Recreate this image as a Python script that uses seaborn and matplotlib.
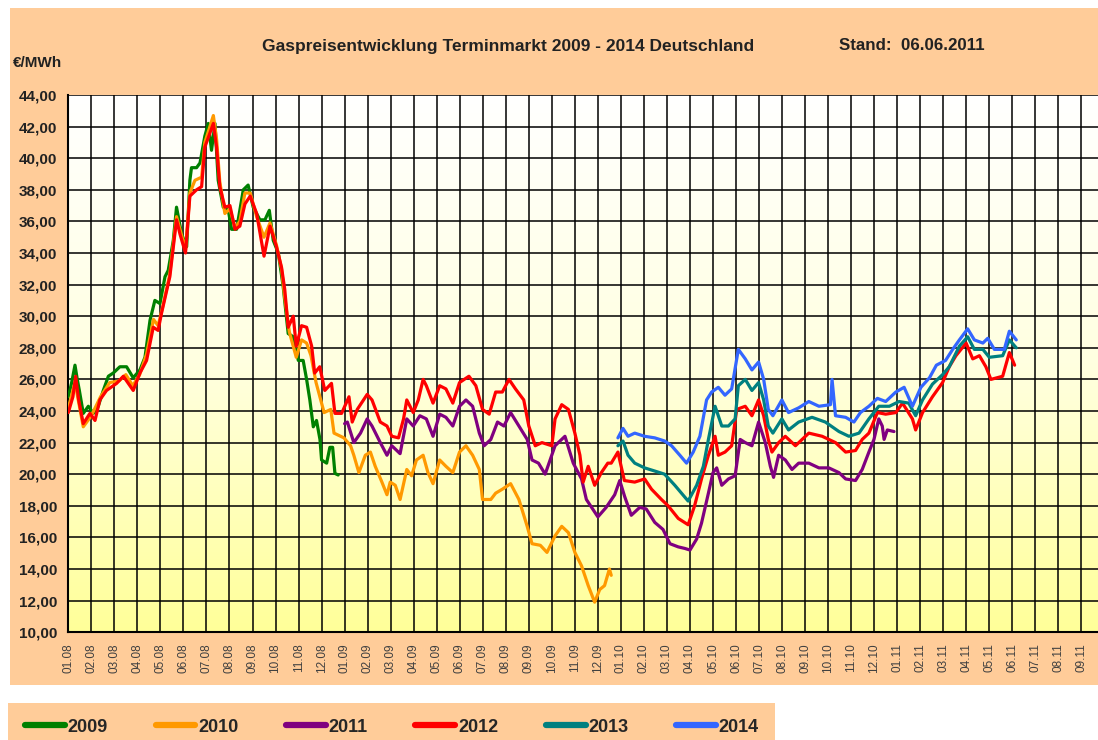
import numpy as np
import pandas as pd
import matplotlib
matplotlib.use("Agg")
import matplotlib.pyplot as plt
import seaborn as sns
from matplotlib.colors import LinearSegmentedColormap
from matplotlib.lines import Line2D
from matplotlib.patches import Rectangle

# ---------------- data (x = months since 01.2008) ----------------
month_labels = ["01.08", "02.08", "03.08", "04.08", "05.08", "06.08", "07.08", "08.08", "09.08", "10.08", "11.08", "12.08",
                "01.09", "02.09", "03.09", "04.09", "05.09", "06.09", "07.09", "08.09", "09.09", "10.09", "11.09", "12.09",
                "01.10", "02.10", "03.10", "04.10", "05.10", "06.10", "07.10", "08.10", "09.10", "10.10", "11.10", "12.10",
                "01.11", "02.11", "03.11", "04.11", "05.11", "06.11", "07.11", "08.11", "09.11"]
y_ticks = [10, 12, 14, 16, 18, 20, 22, 24, 26, 28, 30, 32, 34, 36, 38, 40, 42, 44]
y_tick_labels = ["10,00", "12,00", "14,00", "16,00", "18,00", "20,00", "22,00", "24,00", "26,00",
                 "28,00", "30,00", "32,00", "34,00", "36,00", "38,00", "40,00", "42,00", "44,00"]
years = ["2009", "2010", "2011", "2012", "2013", "2014"]

m2009 = [0.0, 0.14, 0.29, 0.39, 0.48, 0.65, 0.87, 1.09, 1.3, 1.52, 1.74, 1.95, 2.24, 2.53, 2.82, 3.11, 3.33,
         3.55, 3.76, 3.98, 4.2, 4.34, 4.56, 4.7, 4.92, 5.14, 5.28, 5.35, 5.57, 5.72, 5.93, 6.08, 6.22, 6.37,
         6.51, 6.73, 6.95, 7.09, 7.31, 7.6, 7.81, 8.03, 8.32, 8.54, 8.73, 8.9, 9.12, 9.33, 9.55, 9.77, 9.99,
         10.2, 10.35, 10.49, 10.64, 10.78, 10.93, 11.0, 11.22, 11.36, 11.48, 11.58, 11.72]
v2009 = [24.9, 25.75, 26.9, 26.0, 25.3, 23.85, 24.3, 23.85, 24.3, 25.3, 26.2, 26.4, 26.8, 26.8, 26.1, 26.6, 27.4,
         29.75, 31.0, 30.8, 32.5, 32.9, 34.8, 36.9, 35.2, 34.4, 38.6, 39.4, 39.4, 39.7, 41.4, 42.2, 40.5, 42.2,
         38.6, 36.9, 36.7, 35.5, 35.5, 38.0, 38.3, 36.9, 36.1, 36.1, 36.7, 34.8, 34.0, 31.9, 28.9, 28.7, 27.2,
         27.2, 26.0, 24.7, 23.0, 23.4, 22.2, 20.9, 20.7, 21.7, 21.7, 20.05, 19.95]

m2010 = [0.0, 0.29, 0.65, 1.0, 1.4, 1.8, 2.2, 2.5, 2.8, 3.1, 3.4, 3.7, 3.9, 4.1, 4.4, 4.7, 4.85, 5.09, 5.28,
         5.5, 5.79, 5.93, 6.15, 6.3, 6.44, 6.58, 6.8, 7.02, 7.24, 7.45, 7.67, 7.9, 8.18, 8.5, 8.76, 9.04,
         9.26, 9.4, 9.6, 9.9, 10.13, 10.35, 10.54, 10.76, 11.11, 11.4, 11.54, 11.97, 12.26, 12.4, 12.62, 12.9,
         13.12, 13.33, 13.62, 13.84, 13.98, 14.2, 14.41, 14.7, 14.91, 15.12, 15.41, 15.62, 15.84, 16.13, 16.4,
         16.7, 16.99, 17.27, 17.56, 17.85, 17.99, 18.35, 18.56, 18.85, 19.21, 19.57, 19.93, 20.14, 20.5,
         20.79, 21.14, 21.43, 21.72, 22.0, 22.29, 22.58, 22.86, 23.08, 23.29, 23.5, 23.58]
v2010 = [24.2, 25.8, 23.0, 23.7, 24.9, 25.8, 25.9, 26.3, 25.6, 26.3, 27.6, 29.8, 29.4, 30.6, 32.6, 36.3, 35.5,
         34.2, 37.8, 38.6, 38.8, 41.0, 42.0, 42.7, 41.2, 38.5, 36.5, 36.8, 35.6, 36.0, 37.8, 37.8, 36.3, 35.0,
         35.9, 34.5, 33.0, 31.2, 29.0, 27.4, 28.5, 28.3, 27.5, 25.8, 23.9, 24.1, 22.6, 22.3, 21.8, 21.2, 20.1,
         21.2, 21.4, 20.5, 19.5, 18.7, 19.5, 19.3, 18.4, 20.3, 19.9, 20.9, 21.2, 20.1, 19.4, 20.9, 20.5, 20.1,
         21.4, 21.8, 21.2, 20.3, 18.4, 18.4, 18.8, 19.05, 19.4, 18.4, 16.7, 15.6, 15.5, 15.05, 16.1, 16.7,
         16.3, 15.05, 14.2, 12.95, 11.9, 12.7, 12.95, 14.0, 13.6]

m2011 = [12.0, 12.12, 12.4, 12.69, 12.98, 13.19, 13.55, 13.84, 14.05, 14.41, 14.7, 14.98, 15.27, 15.55, 15.84,
         16.13, 16.4, 16.7, 16.99, 17.27, 17.56, 17.85, 18.06, 18.35, 18.64, 18.92, 19.21, 19.57, 19.93, 20.14,
         20.42, 20.71, 21.14, 21.57, 21.93, 22.29, 22.5, 23.0, 23.36, 23.73, 23.95, 24.16, 24.45, 24.82, 25.1,
         25.47, 25.83, 26.13, 26.49, 26.78, 27.0, 27.29, 27.5, 27.8, 28.0, 28.16, 28.38, 28.67, 28.96, 29.18,
         29.4, 29.69, 29.98, 30.27, 30.49, 30.63, 30.85, 31.14, 31.43, 31.72, 32.16, 32.6, 33.03, 33.47, 33.76,
         34.19, 34.48, 34.77, 34.99, 35.2, 35.35, 35.43, 35.57, 35.86]
v2011 = [23.2, 23.3, 22.0, 22.6, 23.5, 23.05, 22.0, 21.2, 21.8, 21.3, 23.5, 23.05, 23.7, 23.5, 22.4, 23.8, 23.6,
         23.05, 24.3, 24.7, 24.3, 22.6, 21.8, 22.2, 23.3, 23.05, 23.9, 23.05, 22.2, 20.9, 20.7, 20.0, 21.8, 22.4,
         20.7, 19.7, 18.4, 17.3, 17.9, 18.7, 19.6, 18.6, 17.4, 17.9, 17.8, 16.95, 16.5, 15.6, 15.4, 15.3, 15.2,
         15.9, 16.9, 18.8, 20.1, 20.4, 19.3, 19.7, 19.9, 22.2, 22.0, 21.8, 23.3, 22.0, 20.5, 19.8, 21.2, 20.9,
         20.3, 20.7, 20.7, 20.4, 20.4, 20.1, 19.7, 19.6, 20.3, 21.4, 22.2, 23.5, 23.05, 22.2, 22.8, 22.7]

m2012 = [0.0, 0.2, 0.32, 0.45, 0.65, 0.94, 1.16, 1.37, 1.66, 2.1, 2.39, 2.82, 3.11, 3.4, 3.69, 3.9, 4.05, 4.41,
         4.7, 4.85, 5.09, 5.28, 5.57, 5.79, 5.93, 6.15, 6.3, 6.44, 6.58, 6.8, 7.02, 7.24, 7.45, 7.67, 7.9, 8.18,
         8.5, 8.76, 9.04, 9.26, 9.4, 9.55, 9.77, 9.9, 10.13, 10.35, 10.57, 10.7, 10.92, 11.14, 11.43, 11.58,
         11.87, 12.19, 12.33, 12.55, 12.98, 13.19, 13.55, 13.84, 14.05, 14.34, 14.56, 14.7, 14.98, 15.2, 15.41,
         15.55, 15.84, 16.13, 16.4, 16.7, 16.99, 17.4, 17.7, 17.99, 18.28, 18.56, 18.85, 19.14, 19.42, 19.78,
         20.0, 20.28, 20.57, 21.0, 21.14, 21.43, 21.72, 22.0, 22.22, 22.36, 22.58, 22.86, 23.15, 23.43, 23.58,
         23.87, 24.15, 24.6, 25.03, 25.33, 25.76, 26.05, 26.49, 26.92, 27.2, 27.5, 27.8, 28.09, 28.23, 28.52,
         28.81, 29.03, 29.4, 29.69, 29.98, 30.2, 30.4, 30.56, 30.85, 31.14, 31.58, 32.16, 32.74, 33.32, 33.76,
         34.19, 34.48, 34.77, 35.14, 35.5, 35.94, 36.23, 36.66, 36.8, 37.1, 37.53, 37.97, 38.26, 38.55, 38.99,
         39.28, 39.57, 39.85, 40.07, 40.58, 40.87, 41.1]
v2012 = [23.9, 24.9, 26.2, 24.7, 23.2, 23.85, 23.4, 24.7, 25.3, 25.75, 26.2, 25.3, 26.4, 27.2, 29.3, 29.1, 30.2,
         32.5, 36.1, 35.2, 34.0, 37.6, 38.0, 38.2, 40.7, 41.6, 42.2, 40.7, 38.2, 36.9, 37.0, 35.5, 35.7, 37.1,
         37.6, 36.5, 33.8, 35.7, 34.4, 33.1, 31.7, 29.3, 30.0, 28.1, 29.4, 29.3, 28.1, 26.4, 26.8, 25.3, 25.75,
         23.85, 23.85, 24.9, 23.3, 24.1, 25.05, 24.7, 23.3, 23.05, 22.4, 22.3, 23.5, 24.7, 23.9, 24.7, 26.0,
         25.6, 24.5, 25.6, 25.4, 24.5, 25.8, 26.2, 25.6, 24.1, 23.8, 25.2, 25.2, 26.0, 25.4, 24.7, 23.05, 21.8,
         22.0, 21.8, 23.5, 24.4, 24.1, 22.6, 21.2, 19.5, 20.5, 19.3, 20.1, 20.7, 20.7, 21.4, 19.6, 19.5, 19.7,
         19.05, 18.4, 18.0, 17.2, 16.8, 18.0, 19.7, 21.2, 22.4, 21.2, 21.4, 21.8, 24.1, 24.3, 23.7, 24.7, 23.7,
         22.2, 21.4, 22.0, 22.4, 21.8, 22.6, 22.4, 22.0, 21.4, 21.5, 22.2, 22.6, 23.9, 23.8, 23.9, 24.5, 23.5,
         22.8, 23.9, 24.9, 25.8, 26.8, 27.5, 28.3, 27.3, 27.5, 26.8, 26.0, 26.2, 27.7, 26.9]

m2013 = [23.87, 24.09, 24.31, 24.6, 25.03, 25.47, 25.9, 26.34, 26.63, 26.92, 27.29, 27.58, 27.8, 28.09, 28.38,
         28.67, 28.96, 29.1, 29.4, 29.69, 29.98, 30.2, 30.4, 30.6, 30.99, 31.28, 31.72, 32.3, 32.88, 33.47,
         33.9, 34.34, 34.77, 35.2, 35.66, 36.08, 36.5, 36.8, 37.1, 37.53, 37.97, 38.26, 38.7, 39.06, 39.35,
         39.72, 40.0, 40.58, 40.87, 41.17]
v2013 = [21.8, 22.1, 21.2, 20.7, 20.4, 20.2, 20.0, 19.3, 18.8, 18.3, 19.3, 20.5, 22.2, 24.3, 23.05, 23.05, 23.5,
         25.6, 26.0, 25.3, 25.8, 24.7, 23.05, 22.6, 23.5, 22.8, 23.3, 23.6, 23.3, 22.7, 22.4, 22.6, 23.5, 24.3,
         24.3, 24.6, 24.5, 23.7, 24.7, 25.7, 26.3, 26.8, 28.1, 28.7, 27.9, 27.9, 27.4, 27.5, 28.5, 28.0]

m2014 = [23.87, 24.09, 24.31, 24.6, 25.03, 25.47, 25.9, 26.2, 26.56, 26.85, 27.14, 27.43, 27.72, 27.94, 28.23,
         28.52, 28.81, 29.1, 29.4, 29.69, 29.98, 30.2, 30.4, 30.6, 30.99, 31.28, 31.72, 32.16, 32.6, 33.1,
         33.17, 33.32, 33.76, 34.12, 34.4, 34.77, 35.14, 35.5, 35.94, 36.3, 36.66, 37.03, 37.4, 37.7, 38.1,
         38.41, 38.7, 39.06, 39.35, 39.72, 39.93, 40.22, 40.65, 40.87, 41.17]
v2014 = [22.3, 22.9, 22.4, 22.6, 22.4, 22.3, 22.1, 21.8, 21.2, 20.7, 21.4, 22.4, 24.7, 25.2, 25.5, 25.0, 25.4,
         27.9, 27.3, 26.6, 27.1, 26.0, 24.1, 23.7, 24.7, 23.9, 24.2, 24.6, 24.3, 24.4, 26.0, 23.7, 23.6, 23.3,
         23.9, 24.3, 24.8, 24.6, 25.2, 25.5, 24.3, 25.5, 26.1, 26.9, 27.2, 27.9, 28.5, 29.2, 28.5, 28.3, 28.6,
         27.9, 27.9, 29.05, 28.5]

colors = ["#008000", "#FF9900", "#800080", "#FF0000", "#008080", "#3366FF"]

series = [(years[0], m2009, v2009), (years[1], m2010, v2010), (years[2], m2011, v2011),
          (years[3], m2012, v2012), (years[4], m2013, v2013), (years[5], m2014, v2014)]
df = pd.concat([pd.DataFrame({"month": m, "value": v, "year": y}) for y, m, v in series], ignore_index=True)

# ---------------- figure ----------------
sns.set_style("white")
plt.rcParams["font.family"] = ["Liberation Sans", "DejaVu Sans"]

W, H = 1098, 740
fig = plt.figure(figsize=(W / 100, H / 100), dpi=100)
fig.patch.set_facecolor("white")

peach = "#FFCC99"
fig.add_artist(Rectangle((10 / W, 1 - 685 / H), (W - 10) / W, (685 - 8) / H,
                         transform=fig.transFigure, facecolor=peach, edgecolor="none", zorder=0))
fig.add_artist(Rectangle((8 / W, 0), (775 - 8) / W, 37 / H,
                         transform=fig.transFigure, facecolor=peach, edgecolor="none", zorder=0))

x_left, x_right = 68.3, 1098
y_top, y_bot = 95, 632.2
ax = fig.add_axes([x_left / W, 1 - y_bot / H, (x_right - x_left) / W, (y_bot - y_top) / H])
ax.patch.set_alpha(0)

xmax = 44.72
ax.set_xlim(0, xmax)
ax.set_ylim(10, 44)

cmap = LinearSegmentedColormap.from_list("bg", ["#FFFFFF", "#FFFFE0", "#FFFF99"])
grad = np.linspace(0, 1, 256).reshape(-1, 1)
ax.imshow(grad, cmap=cmap, extent=[0, xmax, 10, 44], origin="upper", aspect="auto", zorder=0)

sns.lineplot(data=df, x="month", y="value", hue="year", palette=dict(zip(years, colors)),
             estimator=None, sort=False, linewidth=2.3, legend=False, ax=ax, zorder=3)

ax.set_xticks(range(len(month_labels)))
ax.set_xticklabels(month_labels, rotation=90, fontsize=8.5, color="#404040")
ax.set_yticks(y_ticks)
ax.set_yticklabels(y_tick_labels, fontsize=11, fontweight="bold", color="#222222")
ax.set_yticks(np.arange(11, 44, 2), minor=True)
ax.tick_params(axis="y", which="major", direction="out", length=5, width=1.2, color="black", pad=3)
ax.tick_params(axis="y", which="minor", direction="in", length=4, width=1.0, color="black")
ax.tick_params(axis="x", which="major", direction="out", length=5, width=1.2, color="black", pad=3)
ax.set_xlabel("")
ax.set_ylabel("")
ax.grid(True, which="major", color="black", linewidth=1.1, zorder=1)
ax.set_axisbelow(True)
for s in ["top", "right"]:
    ax.spines[s].set_visible(False)
for s in ["left", "bottom"]:
    ax.spines[s].set_color("black")
    ax.spines[s].set_linewidth(1.5)

# texts
fig.text(508 / W, 1 - 46 / H, "Gaspreisentwicklung Terminmarkt 2009 - 2014 Deutschland",
         ha="center", va="center", fontsize=12.5, fontweight="bold", color="#222222")
fig.text(839 / W, 1 - 46 / H, "Stand:  06.06.2011", ha="left", va="center",
         fontsize=12.2, fontweight="bold", color="#222222")
fig.text(13 / W, 1 - 63 / H, "€/MWh", ha="left", va="center", fontsize=11,
         fontweight="bold", color="#222222")

handles = [Line2D([], [], color=c, linewidth=4.5, solid_capstyle="round") for c in colors]
fig.legend(handles, years, loc="center left", bbox_to_anchor=(25 / W, 1 - 727 / H), ncol=6,
           frameon=False, handlelength=2.2, handletextpad=0.15, columnspacing=2.65,
           borderpad=0.0, borderaxespad=0.0, prop={"weight": "bold", "size": 13})

fig.savefig("out.png", dpi=100)
